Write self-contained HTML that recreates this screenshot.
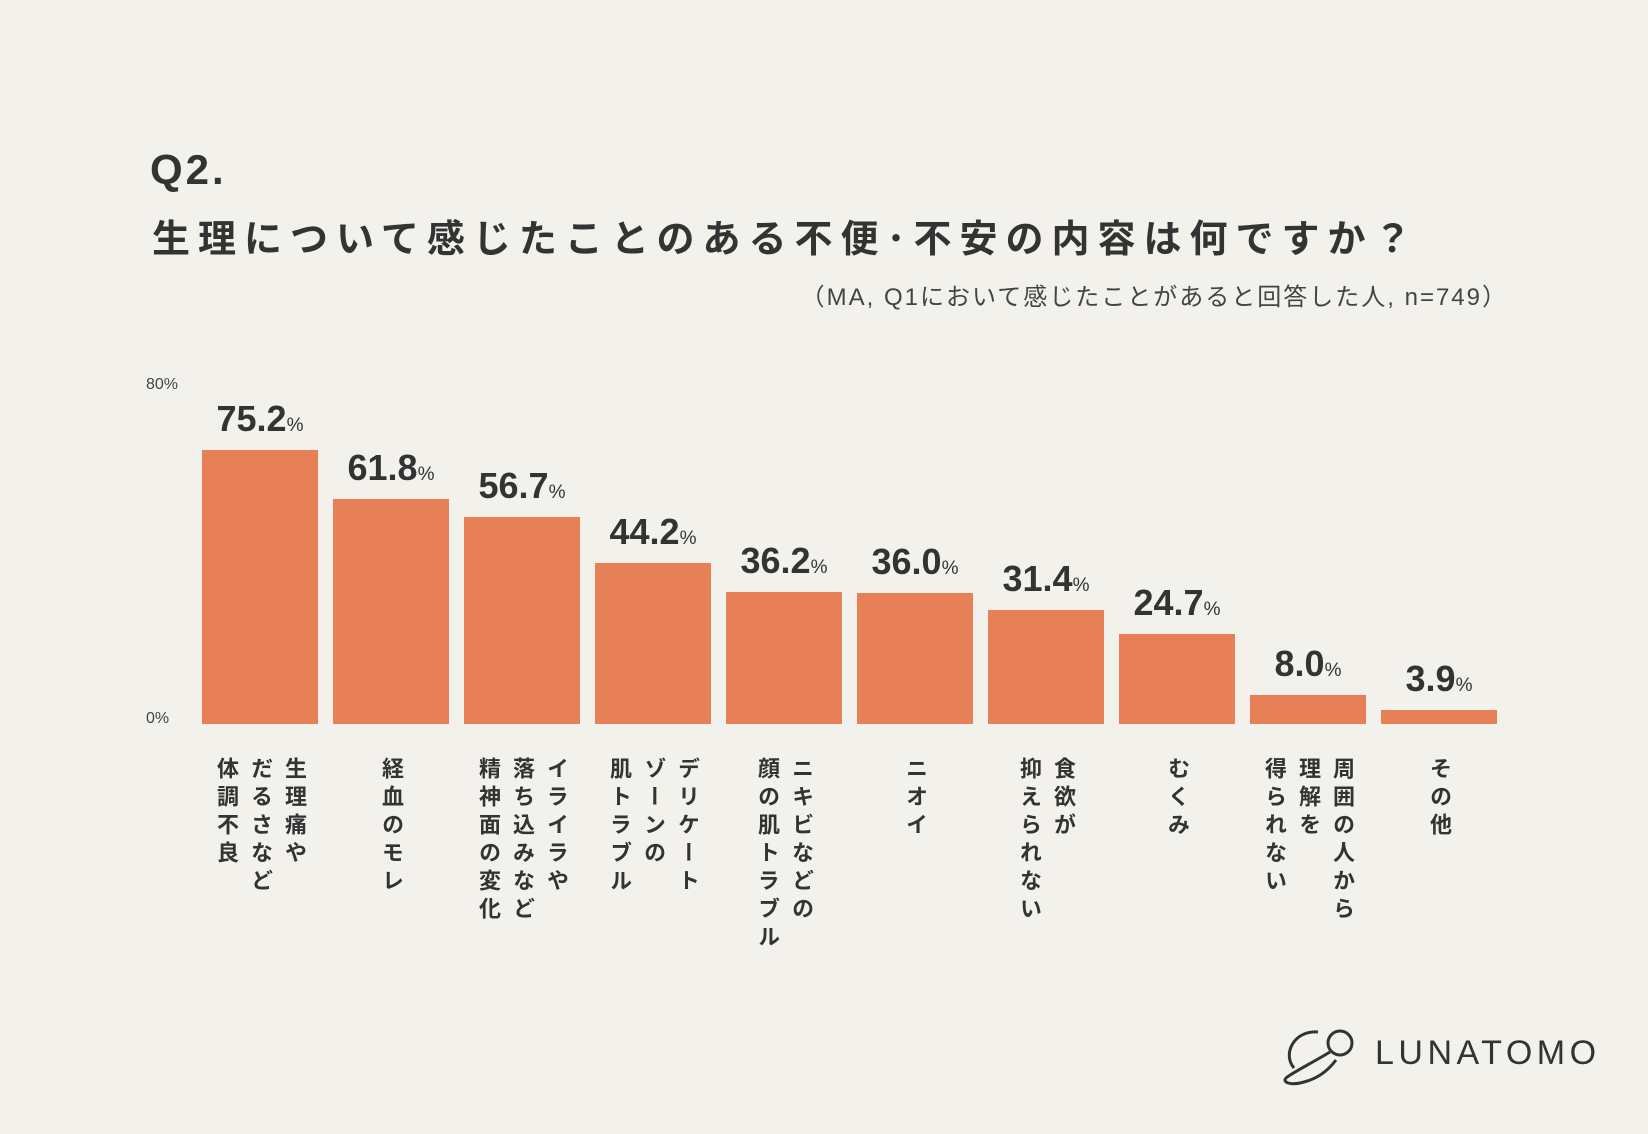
<!DOCTYPE html>
<html><head><meta charset="utf-8"><style>
body{margin:0;background:#f2f1ec;}
#c{position:relative;width:1648px;height:1134px;background:#f2f1ec;overflow:hidden;font-family:"Liberation Sans","Noto Sans CJK JP",sans-serif;color:#333;}
.q{position:absolute;left:150px;top:146px;font-size:42px;font-weight:bold;letter-spacing:3px;}
.t{position:absolute;left:152px;top:208px;font-size:38px;font-weight:bold;letter-spacing:8px;white-space:nowrap;}
.s{position:absolute;right:140px;top:277px;font-size:24px;color:#444;letter-spacing:2px;white-space:nowrap;}
.ax{position:absolute;font-size:16px;color:#444;}
.bar{position:absolute;background:#e88057;}
.val{position:absolute;font-weight:bold;font-size:36px;text-align:center;width:160px;white-space:nowrap;color:#333;}
.val span{font-size:19px;font-weight:normal;}
.lab{position:absolute;top:757px;writing-mode:vertical-rl;font-size:22px;font-weight:bold;letter-spacing:6px;line-height:34px;color:#333;white-space:pre;}
.logo{position:absolute;left:1375px;top:1034px;font-size:34px;letter-spacing:4.5px;color:#333;}
</style></head><body>
<div id="c">
<div class="q">Q2.</div>
<div class="t">生理について感じたことのある不便･不安の内容は何ですか？</div>
<div class="s">（MA, Q1において感じたことがあると回答した人, n=749）</div>
<div class="ax" style="left:146px;top:376px">80%</div>
<div class="ax" style="left:146px;top:710px">0%</div>
<svg style="position:absolute;left:1280px;top:1024px" width="82" height="62">
<circle cx="60" cy="19" r="12" fill="none" stroke="#333" stroke-width="3"/>
<path d="M38 8 C14 6 2 30 14 44" fill="none" stroke="#333" stroke-width="3"/>
<path d="M50 28 C30 40 10 50 6 54 C2 58 10 62 24 58 C40 54 50 44 56 36" fill="none" stroke="#333" stroke-width="3"/>
</svg>
<div class="logo">LUNATOMO</div>
</div>
<script>
const categories=["生理痛や\nだるさなど\n体調不良","経血のモレ","イライラや\n落ち込みなど\n精神面の変化","デリケート\nゾーンの\n肌トラブル","ニキビなどの\n顔の肌トラブル","ニオイ","食欲が\n抑えられない","むくみ","周囲の人から\n理解を\n得られない","その他"];
const values=[75.2,61.8,56.7,44.2,36.2,36.0,31.4,24.7,8.0,3.9];
const c=document.getElementById('c');
const baseY=724, pxPer=3.644, x0=202, step=131, bw=116;
function xs(i){return x0+i*step;}
function ys(v){return baseY-v*pxPer;}
values.forEach((v,i)=>{
  const b=document.createElement('div');
  b.className='bar';
  
  
  b.style.left=xs(i)+'px';b.style.width=bw+'px';
  b.style.top=ys(v)+'px';b.style.height=(baseY-ys(v))+'px';
  c.appendChild(b);
  const l=document.createElement('div');
  l.className='val';
  
  
  l.innerHTML=v.toFixed(1)+'<span>%</span>';
  l.style.left=(xs(i)+bw/2-80)+'px';
  l.style.top=(ys(v)-52)+'px';
  c.appendChild(l);
  const t=document.createElement('div');
  t.className='lab';
  
  
  t.textContent=categories[i];
  c.appendChild(t);
  const w=t.offsetWidth;
  t.style.left=(xs(i)+bw/2-w/2)+'px';
});
</script>
</body></html>
